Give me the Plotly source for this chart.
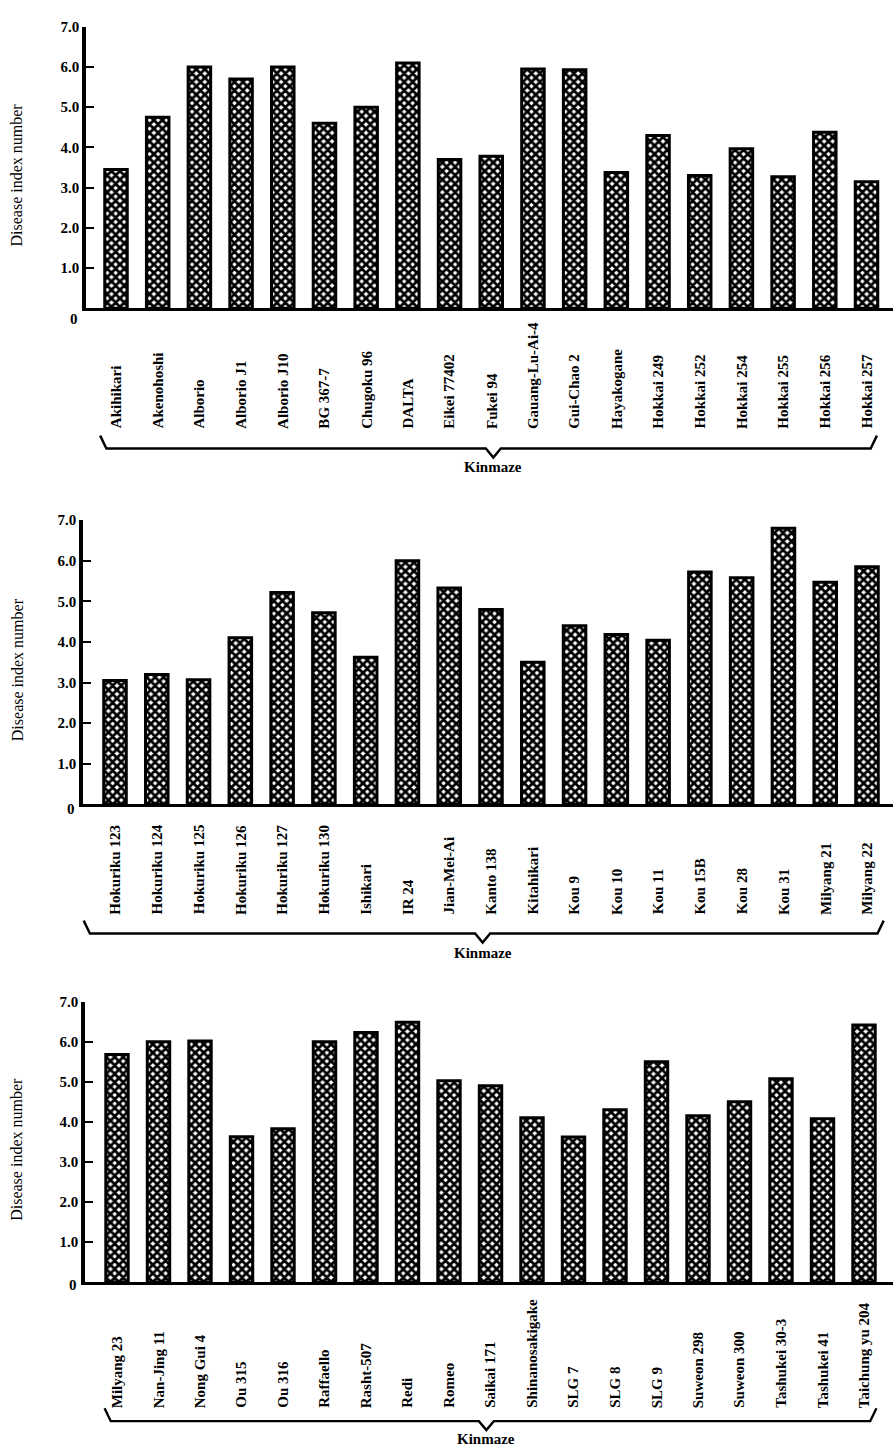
import plotly.graph_objects as go

W, H = 893, 1452

# ---------------- data ----------------
varieties_1 = ["Akihikari", "Akenohoshi", "Alborio", "Alborio J1", "Alborio J10", "BG 367-7",
               "Chugoku 96", "DALTA", "Eikei 77402", "Fukei 94", "Gauang-Lu-Ai-4", "Gui-Chao 2",
               "Hayakogane", "Hokkai 249", "Hokkai 252", "Hokkai 254", "Hokkai 255", "Hokkai 256",
               "Hokkai 257"]
index_1 = [3.45, 4.75, 6.0, 5.7, 6.0, 4.6, 5.0, 6.1, 3.7, 3.78, 5.95, 5.93,
           3.38, 4.3, 3.3, 3.97, 3.27, 4.38, 3.15]

varieties_2 = ["Hokuriku 123", "Hokuriku 124", "Hokuriku 125", "Hokuriku 126", "Hokuriku 127",
               "Hokuriku 130", "Ishikari", "IR 24", "Jian-Mei-Ai", "Kanto 138", "Kitahikari",
               "Kou 9", "Kou 10", "Kou 11", "Kou 15B", "Kou 28", "Kou 31", "Milyang 21",
               "Milyang 22"]
index_2 = [3.05, 3.2, 3.07, 4.1, 5.22, 4.72, 3.62, 6.0, 5.33, 4.8, 3.5,
           4.4, 4.18, 4.04, 5.72, 5.58, 6.8, 5.47, 5.85]

varieties_3 = ["Milyang 23", "Nan-Jing 11", "Nong Gui 4", "Ou 315", "Ou 316", "Raffaello",
               "Rasht-507", "Redi", "Romeo", "Saikai 171", "Shinanosakigake", "SLG 7", "SLG 8",
               "SLG 9", "Suweon 298", "Suweon 300", "Tashukei 30-3", "Tashukei 41",
               "Taichung yu 204"]
index_3 = [5.68, 6.0, 6.02, 3.63, 3.83, 6.0, 6.23, 6.49, 5.03, 4.9, 4.1, 3.62, 4.3,
           5.5, 4.15, 4.5, 5.08, 4.08, 6.42]

y_ticks = [0, 1, 2, 3, 4, 5, 6, 7]
y_tick_labels = ["", "1.0", "2.0", "3.0", "4.0", "5.0", "6.0", "7.0"]
zero_label = "0"
y_title = "Disease index number"
group_label = "Kinmaze"

# ---------------- layout geometry (pixels) ----------------
panels = [
    dict(names=varieties_1, vals=index_1, y0=302, y7=18.9, axis_px=86, first=116, last=866.5,
         tip=9.05, brace_l=-0.38, brace_r=18.25, zero_dy=11,
         lab_dy=123, brace_dy=141, kin_dy=160),
    dict(names=varieties_2, vals=index_2, y0=800.7, y7=515, axis_px=83, first=115, last=867,
         tip=8.8, brace_l=-0.75, brace_r=18.4, zero_dy=5,
         lab_dy=113, brace_dy=130, kin_dy=150),
    dict(names=varieties_3, vals=index_3, y0=1281, y7=999.3, axis_px=85, first=117, last=864,
         tip=8.9, brace_l=-0.3, brace_r=18.3, zero_dy=3,
         lab_dy=129, brace_dy=140, kin_dy=158),
]

SERIF = "Liberation Serif, DejaVu Serif, serif"


def yp(py):
    return 1 - py / H


fig = go.Figure()
annotations = []
shapes = []
layout = {}

for k, p in enumerate(panels, start=1):
    xa = "x" if k == 1 else f"x{k}"
    ya = "y" if k == 1 else f"y{k}"
    n = len(p["names"])
    s = (p["last"] - p["first"]) / (n - 1)
    left = (p["axis_px"] - p["first"]) / s
    right = (W - p["first"]) / s

    fig.add_trace(go.Bar(
        x=p["names"], y=p["vals"], xaxis=xa, yaxis=ya, width=0.54,
        marker=dict(color="white", line=dict(color="black", width=3),
                    pattern=dict(shape="x", fgcolor="black", bgcolor="white",
                                 fgopacity=1, size=6, solidity=0.72)),
        showlegend=False, hoverinfo="x+y"))

    layout["xaxis" if k == 1 else f"xaxis{k}"] = dict(
        type="category", domain=[p["axis_px"] / W, 1], range=[left, right],
        anchor=ya, showline=True, linewidth=3, linecolor="black",
        showticklabels=False, ticks="", showgrid=False, zeroline=False,
        categoryorder="array", categoryarray=p["names"])
    layout["yaxis" if k == 1 else f"yaxis{k}"] = dict(
        domain=[yp(p["y0"]), yp(p["y7"])], range=[0, 7], anchor=xa,
        tickvals=y_ticks, ticktext=y_tick_labels, ticks="inside", ticklen=8,
        tickwidth=2, tickcolor="black", showline=True, linewidth=3.5, linecolor="black",
        showgrid=False, zeroline=False,
        tickfont=dict(family=SERIF, size=15, color="black", weight="bold"))

    # zero label sits a little below the axis line
    annotations.append(dict(
        x=(p["axis_px"] - 12) / W, xref="paper", y=yp(p["y0"] + p["zero_dy"]), yref="paper",
        text=zero_label, xanchor="center", yanchor="middle", showarrow=False,
        font=dict(family=SERIF, size=15, color="black", weight="bold")))

    # category labels (bottom aligned, reading upward)
    for name in p["names"]:
        annotations.append(dict(
            x=name, xref=xa, y=yp(p["y0"] + p["lab_dy"]), yref="paper", text=name,
            textangle=-90, xanchor="center", yanchor="bottom", showarrow=False,
            font=dict(family=SERIF, size=15, color="black", weight="bold")))

    # brace under the labels
    def xpx(i):
        return (p["first"] + i * s) / W

    b = p["y0"] + p["brace_dy"]
    a, c = b - 13, b + 9
    l, r, t = p["brace_l"], p["brace_r"], p["tip"]
    path = (f"M {xpx(l)},{yp(a)} L {xpx(l + 0.15)},{yp(b)} L {xpx(t - 0.18)},{yp(b)} "
            f"L {xpx(t)},{yp(c)} L {xpx(t + 0.18)},{yp(b)} L {xpx(r - 0.15)},{yp(b)} "
            f"L {xpx(r)},{yp(a)}")
    shapes.append(dict(type="path", path=path, xref="paper", yref="paper",
                       line=dict(color="black", width=2.4)))

    annotations.append(dict(
        x=xpx(t), xref="paper", y=yp(p["y0"] + p["kin_dy"]), yref="paper", text=group_label,
        xanchor="center", yanchor="middle", showarrow=False,
        font=dict(family=SERIF, size=15, color="black", weight="bold")))

    annotations.append(dict(
        x=17 / W, xref="paper", y=yp((p["y0"] + p["y7"]) / 2 + 8), yref="paper",
        text=y_title, textangle=-90, xanchor="center", yanchor="middle", showarrow=False,
        font=dict(family=SERIF, size=16, color="black")))

fig.update_layout(
    width=W, height=H, margin=dict(l=0, r=0, t=0, b=0),
    paper_bgcolor="white", plot_bgcolor="white",
    annotations=annotations, shapes=shapes, **layout)

fig.write_html("out.html", config={"displayModeBar": False},
               post_script="document.body.style.margin='0px';"
                           "document.body.style.overflow='hidden';")
